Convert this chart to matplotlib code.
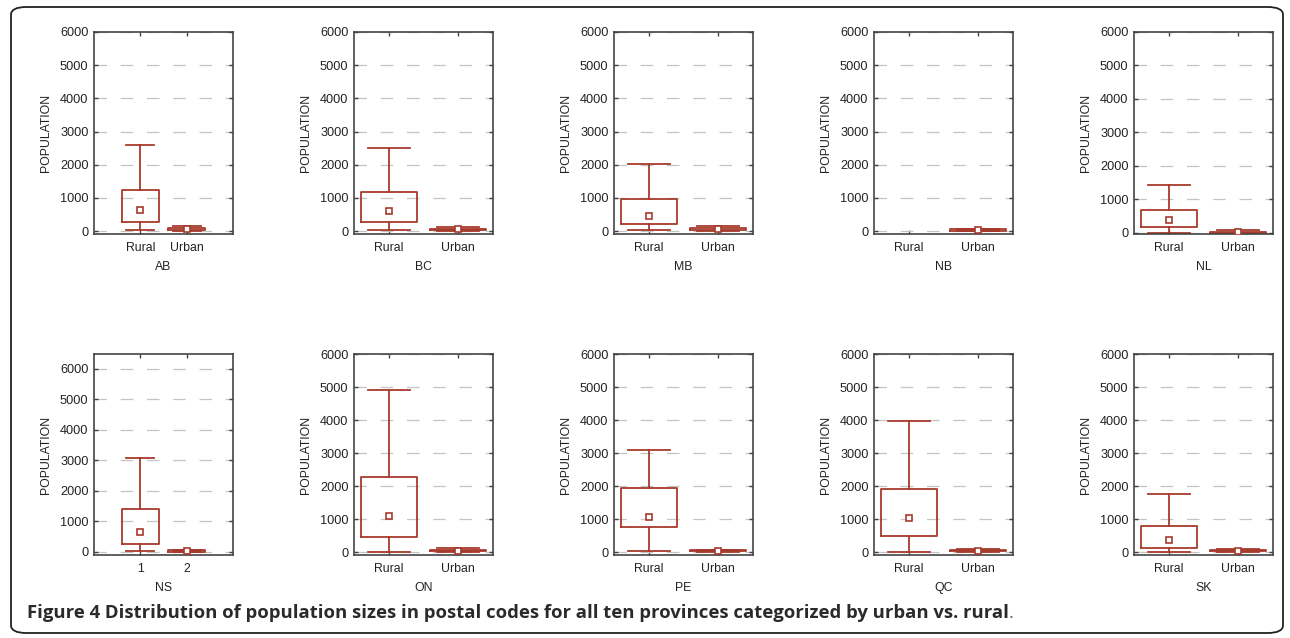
import matplotlib
matplotlib.use("Agg")
import matplotlib.pyplot as plt
from matplotlib.patches import FancyBboxPatch

provinces = ['AB', 'BC', 'MB', 'NB', 'NL', 'NS', 'ON', 'PE', 'QC', 'SK']

# box stats: [whisker low, q1, median, q3, whisker high]
rural = {
    'AB': [20, 260, 630, 1230, 2600],
    'BC': [20, 280, 600, 1170, 2500],
    'MB': [40, 200, 450, 980, 2030],
    'NB': None,
    'NL': [0, 180, 380, 700, 1420],
    'NS': [20, 260, 650, 1420, 3070],
    'ON': [10, 470, 1100, 2270, 4900],
    'PE': [40, 760, 1050, 1940, 3100],
    'QC': [10, 500, 1020, 1900, 3970],
    'SK': [10, 120, 350, 800, 1760],
}
urban = {
    'AB': [0, 20, 50, 90, 150],
    'BC': [0, 20, 50, 70, 120],
    'MB': [0, 20, 50, 100, 140],
    'NB': [0, 10, 30, 50, 60],
    'NL': [0, 5, 30, 20, 90],
    'NS': [0, 10, 30, 50, 80],
    'ON': [0, 20, 40, 60, 110],
    'PE': [0, 20, 30, 50, 60],
    'QC': [0, 20, 40, 60, 80],
    'SK': [0, 20, 40, 60, 80],
}
cat_labels = {'NS': ['1', '2']}
default_labels = ['Rural', 'Urban']
yticks = [0, 1000, 2000, 3000, 4000, 5000, 6000]
ylims = {'NL': (-30, 6000), 'NS': (-100, 6480)}
xlims = {'AB': (0, 3), 'NS': (0, 3)}

red = '#A63A2C'
dark = '#444444'
plt.rcParams['font.family'] = ['Liberation Sans', 'DejaVu Sans']

W, H = 1290, 638
fig = plt.figure(figsize=(W / 100, H / 100), dpi=100)

for i, prov in enumerate(provinces):
    row, col = divmod(i, 5)
    left = 94 + 260 * col
    if row == 0:
        top, bottom = 32, 234
    else:
        top, bottom = 354, 555
    ax = fig.add_axes([left / W, 1 - bottom / H, 139 / W, (bottom - top) / H])

    stats, pos = [], []
    for k, src in enumerate([rural, urban]):
        v = src[prov]
        if v is None:
            continue
        stats.append(dict(whislo=v[0], q1=v[1], med=v[2], q3=v[3], whishi=v[4]))
        pos.append(k + 1)

    lp = dict(color=red, linewidth=1.3)
    ax.bxp(stats, positions=pos, widths=0.8, capwidths=0.6, showfliers=False,
           boxprops=lp, whiskerprops=lp, capprops=lp,
           medianprops=dict(linestyle='none'))
    ax.plot(pos, [s['med'] for s in stats], 's', ms=4.5, mfc='white', mec=red, mew=1.2,
            linestyle='none', zorder=4)

    ax.set_xlim(*xlims.get(prov, (0.5, 2.5)))
    ax.set_ylim(*ylims.get(prov, (-90, 6000)))
    ax.set_xticks([1, 2])
    ax.set_xticklabels(cat_labels.get(prov, default_labels))
    ax.set_yticks(yticks)
    ax.yaxis.grid(True, color='#C4C4C4', linestyle=(0, (10, 11)), linewidth=0.9)
    ax.set_axisbelow(True)
    ax.tick_params(direction='in', top=True, right=True, length=3, width=1,
                   color=dark, labelsize=9.2, labelcolor='#222222', pad=4)
    ax.tick_params(axis='x', pad=6, labelsize=8.8)
    for s in ax.spines.values():
        s.set_color(dark)
        s.set_linewidth(1.2)
    ax.set_ylabel('POPULATION', fontsize=8.8, color='#222222', labelpad=6)
    ax.set_xlabel(prov, fontsize=8.8, color='#222222', labelpad=5)

# rounded frame around the figure
frame = FancyBboxPatch((11 / W, 5 / H), 1272 / W, 626 / H,
                       boxstyle='round,pad=0,rounding_size=0.012',
                       transform=fig.transFigure, fill=False,
                       edgecolor='#222222', linewidth=1.3)
fig.patches.append(frame)

cap_font = ['Open Sans', 'DejaVu Sans']
cap = fig.text(27 / W, 1 - 618 / H,
               'Figure 4 Distribution of population sizes in postal codes for all ten '
               'provinces categorized by urban vs. rural',
               fontsize=13.3, fontweight='bold', family=cap_font,
               color='#2A2A2A', va='baseline')
fig.add_artist(plt.Annotation('.', xy=(1, 0), xycoords=cap, xytext=(-0.5, 0),
                              textcoords='offset points', fontsize=13.3,
                              family=cap_font, color='#666666', va='bottom'))

fig.savefig('out.png', dpi=100)
